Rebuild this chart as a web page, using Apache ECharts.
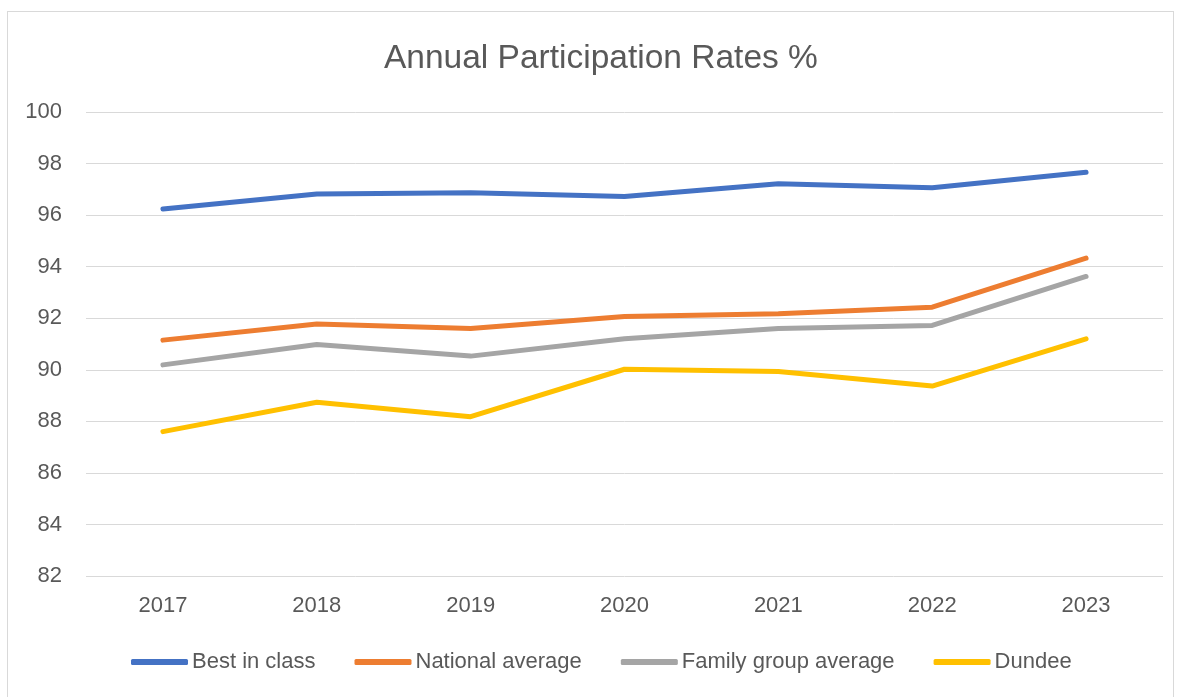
<!DOCTYPE html>
<html>
<head>
<meta charset="utf-8">
<script src="https://cdn.jsdelivr.net/npm/echarts@6/dist/echarts.min.js"></script>
<style>
  html, body { margin: 0; padding: 0; background: #fff; }
  #frame {
    position: absolute; left: 7px; top: 11px; width: 1167px; height: 700px;
    border: 1px solid #d9d9d9; box-sizing: border-box;
  }
  #chart { position: absolute; left: 0; top: 0; width: 1184px; height: 697px; }
</style>
</head>
<body>
<div id="frame"></div>
<div id="chart"></div>
<script>
  // 年份和各系列数据
  var years = ['2017', '2018', '2019', '2020', '2021', '2022', '2023']
  var bestInClass = [96.24, 96.82, 96.87, 96.72, 97.22, 97.06, 97.66]
  var nationalAverage = [91.15, 91.78, 91.6, 92.07, 92.17, 92.43, 94.33]
  var familyGroupAverage = [90.19, 90.98, 90.53, 91.2, 91.6, 91.72, 93.62]
  var dundee = [87.6, 88.74, 88.18, 90.02, 89.93, 89.37, 91.2]
  var yTicks = { min: 82, max: 100, step: 2 }

  var font = 'Liberation Sans'
  var lineSeries = function (name, data, color) {
    return {
      name: name,
      type: 'line',
      data: data,
      symbol: 'none',
      smooth: false,
      lineStyle: { width: 5, color: color, cap: 'round', join: 'round' },
      itemStyle: { color: color }
    }
  }

  var myChart = echarts.init(document.getElementById('chart'))
  var option = {
    animation: false,
    title: {
      text: 'Annual Participation Rates %',
      left: 379,
      top: 37,
      textStyle: { fontFamily: font, fontSize: 33.5, fontWeight: 'normal', color: '#595959' }
    },
    legend: {
      bottom: 19,
      left: 126,
      itemWidth: 57,
      itemHeight: 6,
      itemGap: 39,
      icon: 'roundRect',
      textStyle: { fontFamily: font, fontSize: 22, color: '#595959', padding: [0, 0, 0, -1] },
      data: ['Best in class', 'National average', 'Family group average', 'Dundee']
    },
    grid: { left: 86, right: 21, top: 112, bottom: 121 },
    xAxis: {
      type: 'category',
      data: years,
      boundaryGap: true,
      axisLine: { show: false },
      axisTick: { show: false },
      axisLabel: { fontFamily: font, fontSize: 22, color: '#595959', margin: 19 }
    },
    yAxis: {
      type: 'value',
      min: yTicks.min,
      max: yTicks.max,
      interval: yTicks.step,
      axisLine: { show: false },
      axisTick: { show: false },
      axisLabel: { fontFamily: font, fontSize: 22, color: '#595959', margin: 24 },
      splitLine: { lineStyle: { color: '#d9d9d9', width: 1 } }
    },
    series: [
      lineSeries('Best in class', bestInClass, '#4472C4'),
      lineSeries('National average', nationalAverage, '#ED7D31'),
      lineSeries('Family group average', familyGroupAverage, '#A5A5A5'),
      lineSeries('Dundee', dundee, '#FFC000')
    ]
  }
  myChart.setOption(option, true)
</script>
</body>
</html>
